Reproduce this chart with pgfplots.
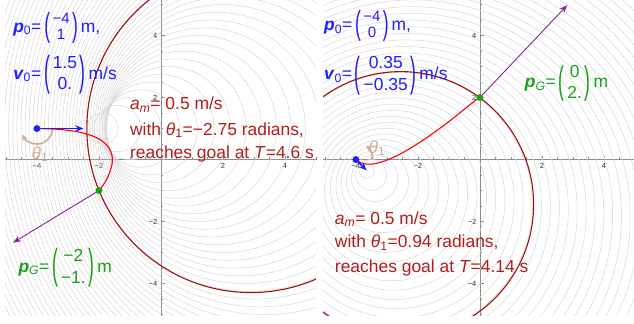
\documentclass[border=0pt]{standalone}
\usepackage{fontspec}
\setmainfont{Liberation Sans}
\usepackage{pgfplots}
\pgfplotsset{compat=1.18}
\usetikzlibrary{arrows.meta}

\definecolor{gc}{RGB}{215,215,215}
\definecolor{axc}{RGB}{140,140,140}
\definecolor{dred}{RGB}{165,12,12}
\definecolor{tred}{RGB}{178,28,28}
\definecolor{tblue}{RGB}{30,30,255}
\definecolor{tgreen}{RGB}{25,160,25}
\definecolor{purp}{RGB}{140,30,160}
\definecolor{thtan}{RGB}{205,175,145}

% #1 font size, #2 row spacing, #3 paren vertical scale, #4 top entry, #5 bottom entry
\newcommand\mtx[5]{$\vcenter{\hbox{\scalebox{1}[#3]{(}}}\vcenter{\hbox{\fontsize{#1}{#2}\selectfont\begin{tabular}{@{\,}c@{\,}}#4\\#5\end{tabular}}}\vcenter{\hbox{\scalebox{1}[#3]{)}}}$}

\pgfplotsset{panel/.style={
  scale only axis, width=310.9bp, height=315.6bp,
  axis lines=middle, axis line style={axc, line width=0.6bp, -},
  ymin=-5.03, ymax=5.15,
  xtick={-4,-2,2,4}, xticklabels={−4,−2,2,4},
  ytick={-4,-2,2,4}, yticklabels={−4,−2,2,4},
  minor xtick={-5,-4.5,...,5}, minor ytick={-5,-4.5,...,5},
  tick style={axc, line width=0.5bp},
  major tick length=4bp, minor tick length=2.5bp,
  tick align=inside,
  ticklabel style={font=\fontsize{7.5}{8}\selectfont, text=black!85},
  clip=true,
}}

\begin{document}
\begin{tikzpicture}
% ---------------- left panel ----------------
\begin{axis}[panel, at={(5bp,8.5bp)}, anchor=south west, xmin=-5.03, xmax=5.0]
\pgfplotsforeachungrouped \k in {1,...,64}{%
  \pgfmathsetmacro\cx{-4+1.5*sqrt(\k)}%
  \pgfmathsetmacro\rr{0.25*\k}%
  \edef\temp{\noexpand\draw[gc, line width=0.5bp] (axis cs:\cx,1) circle[radius=\rr];}%
  \temp
}
\draw[dred, line width=1.1bp] (axis cs:2.9,1) circle[radius=5.29];
\draw[thtan, line width=1.6bp, -{Stealth[length=6bp,width=6bp]}] (axis cs:-3.5,1) arc[start angle=0, end angle=-157.6, radius=15.5bp];
\addplot[red, line width=1.1bp, smooth] coordinates {(-4,1) (-3.3078,0.9761) (-2.7311,0.9046) (-2.2699,0.7853) (-1.9243,0.6183) (-1.6942,0.4037) (-1.5797,0.1413) (-1.5807,-0.1688) (-1.6972,-0.5266) (-1.8226,-0.7642) (-2,-1)};
\addplot[purp, line width=0.9bp, -{Stealth[length=8bp,width=6bp]}] coordinates {(-2,-1) (-4.77,-2.68)};
\addplot[tblue, line width=1.6bp, -{Stealth[length=8bp,width=6.5bp]}] coordinates {(-4,1) (-2.5,1)};
\addplot[only marks, mark=*, mark size=3.2bp, tblue] coordinates {(-4,1)};
\addplot[only marks, mark=*, mark size=3.2bp, tgreen] coordinates {(-2,-1)};
\coordinate (Lp) at (axis cs:-4.77,4.24);
\coordinate (Lv) at (axis cs:-4.77,2.73);
\coordinate (Lg) at (axis cs:-4.6,-3.5);
\coordinate (La1) at (axis cs:-1.0,1.6);
\coordinate (La2) at (axis cs:-1.0,0.79);
\coordinate (La3) at (axis cs:-1.0,0.05);
\coordinate (Lth) at (axis cs:-3.9,0.18);
\end{axis}
% ---------------- right panel ----------------
\begin{axis}[panel, at={(323bp,8.5bp)}, anchor=south west, xmin=-5.06, xmax=4.97]
\pgfplotsforeachungrouped \k in {1,...,64}{%
  \pgfmathsetmacro\cx{-4+0.35*sqrt(\k)}%
  \pgfmathsetmacro\cy{-0.35*sqrt(\k)}%
  \pgfmathsetmacro\rr{0.25*\k}%
  \edef\temp{\noexpand\draw[gc, line width=0.5bp] (axis cs:\cx,\cy) circle[radius=\rr];}%
  \temp
}
\draw[dred, line width=1.1bp] (axis cs:-2.551,-1.449) circle[radius=4.285];
\draw[thtan, line width=1.6bp, -{Stealth[length=6bp,width=6bp]}] (axis cs:-3.45,0) arc[start angle=0, end angle=53.9, radius=17bp];
\addplot[red, line width=1.1bp, smooth] coordinates {(-4,0) (-3.7881,-0.1245) (-3.5025,-0.1481) (-3.1432,-0.0707) (-2.7102,0.1076) (-2.2034,0.3869) (-1.6229,0.7671) (-0.9686,1.2483) (-0.2406,1.8304) (0,2)};
\addplot[purp, line width=0.9bp, -{Stealth[length=8bp,width=6bp]}] coordinates {(0,2) (2.82,4.98)};
\addplot[tblue, line width=1.6bp, -{Stealth[length=8bp,width=6.5bp]}] coordinates {(-4,0) (-3.65,-0.35)};
\addplot[only marks, mark=*, mark size=3.2bp, tblue] coordinates {(-4,0)};
\addplot[only marks, mark=*, mark size=3.2bp, tgreen] coordinates {(0,2)};
\coordinate (Rp) at (axis cs:-5.03,4.3);
\coordinate (Rv) at (axis cs:-5.03,2.72);
\coordinate (Rg) at (axis cs:1.45,2.45);
\coordinate (Ra1) at (axis cs:-4.68,-2.08);
\coordinate (Ra2) at (axis cs:-4.68,-2.85);
\coordinate (Ra3) at (axis cs:-4.68,-3.63);
\coordinate (Rth) at (axis cs:-3.32,0.37);
\end{axis}
% ---------------- texts ----------------
\tikzset{txt/.style={inner sep=0pt, font=\fontsize{17.5}{21}\selectfont}}
\node[txt, anchor=west, text=tblue] at (Lp) {\textbf{\textit{p}}\textsubscript{0}=\,\mtx{15}{16}{1.9}{−4}{1}\,m,};
\node[txt, anchor=west, text=tblue] at (Lv) {\textbf{\textit{v}}\textsubscript{0}=\,\mtx{17.5}{21.5}{2.4}{1.5}{0.}\,m/s};
\node[txt, anchor=west, text=tgreen] at (Lg) {\textbf{\textit{p}}\textsubscript{\textit{G}}=\,\mtx{17.5}{21.5}{2.4}{−2}{−1.}\,m};
\node[txt, anchor=base west, text=tred] at (La1) {\textit{a}\textsubscript{\textit{m}}= 0.5 m/s};
\node[txt, anchor=base west, text=tred] at (La2) {with \textit{θ}\textsubscript{1}=−2.75 radians,};
\node[txt, anchor=base west, text=tred] at (La3) {reaches goal at \textit{T}=4.6 s};
\node[txt, text=thtan] at (Lth) {\textit{θ}\textsubscript{1}};
\node[txt, anchor=west, text=tblue] at (Rp) {\textbf{\textit{p}}\textsubscript{0}=\,\mtx{15}{16}{1.9}{−4}{0}\,m,};
\node[txt, anchor=west, text=tblue] at (Rv) {\textbf{\textit{v}}\textsubscript{0}=\,\mtx{17.5}{21.5}{2.4}{0.35}{−0.35}\,m/s};
\node[txt, anchor=west, text=tgreen] at (Rg) {\textbf{\textit{p}}\textsubscript{\textit{G}}=\,\mtx{17.5}{21.5}{2.2}{0}{2.}\,m};
\node[txt, anchor=base west, text=tred] at (Ra1) {\textit{a}\textsubscript{\textit{m}}= 0.5 m/s};
\node[txt, anchor=base west, text=tred] at (Ra2) {with \textit{θ}\textsubscript{1}=0.94 radians,};
\node[txt, anchor=base west, text=tred] at (Ra3) {reaches goal at \textit{T}=4.14 s};
\node[txt, text=thtan] at (Rth) {\textit{θ}\textsubscript{1}};
\pgfresetboundingbox
\path[use as bounding box] (0,0) rectangle (634bp,324bp);
\end{tikzpicture}
\end{document}
